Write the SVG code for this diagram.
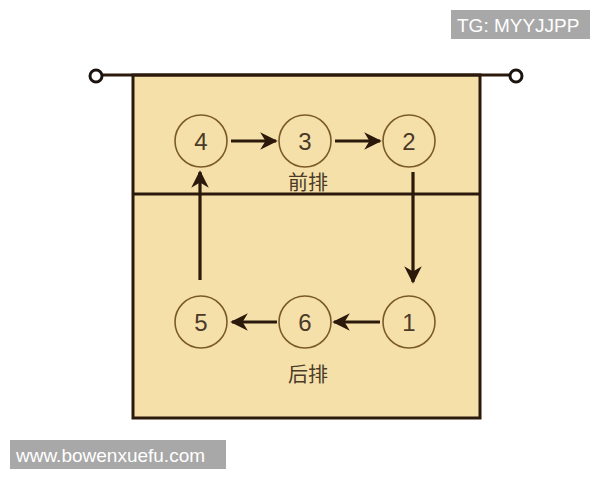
<svg xmlns="http://www.w3.org/2000/svg" width="600" height="480" viewBox="0 0 600 480">
<style>
.court{fill:#f6e0a9;stroke:#2b1a0c;stroke-width:3}
.line{stroke:#2b1a0c;stroke-width:3;fill:none}
.post{fill:#fff;stroke:#1a1410;stroke-width:3}
.pos{fill:none;stroke:#7a5a2a;stroke-width:1.6}
.num{font-family:"Liberation Sans",Arial,sans-serif;font-size:24px;fill:#4a3a28;text-anchor:middle}
.lbl{font-family:"Noto Sans CJK SC",sans-serif;font-size:20px;fill:#4a3a28;text-anchor:middle}
.arr{stroke:#2b1a0c;stroke-width:3.2;fill:none;marker-end:url(#ah)}
.badge{fill:#a8a8a8}
.btxt{font-family:"Liberation Sans",Arial,sans-serif;font-size:19px;fill:#fff}
</style>
<defs>
<marker id="ah" viewBox="0 0 10 10" refX="9" refY="5" markerWidth="5.5" markerHeight="5.5" markerUnits="strokeWidth" orient="auto">
<path d="M0,0 L10,5 L0,10 L3,5 Z" fill="#2b1a0c"/>
</marker>
</defs>
<rect width="600" height="480" fill="#fff"/>
<g id="court">
<rect class="court" x="133" y="75" width="347" height="343"/>
<line class="line" x1="133" y1="194" x2="480" y2="194"/>
<line class="line" x1="102" y1="75" x2="510" y2="75"/>
<circle class="post" cx="96" cy="76" r="6"/>
<circle class="post" cx="516" cy="76" r="6"/>
</g>
<g id="connectors">
<line class="arr" x1="231" y1="141" x2="276" y2="141"/>
<line class="arr" x1="335" y1="141" x2="380" y2="141"/>
<line class="arr" x1="413" y1="172" x2="413" y2="282"/>
<line class="arr" x1="380" y1="322" x2="334" y2="322"/>
<line class="arr" x1="277" y1="322" x2="232" y2="322"/>
<line class="arr" x1="200" y1="280" x2="200" y2="172"/>
</g>
<g id="p4"><circle class="pos" cx="201" cy="141" r="26"/><text class="num" x="201" y="149.5">4</text></g>
<g id="p3"><circle class="pos" cx="305" cy="141" r="26"/><text class="num" x="305" y="149.5">3</text></g>
<g id="p2"><circle class="pos" cx="409" cy="141" r="26"/><text class="num" x="409" y="149.5">2</text></g>
<g id="p5"><circle class="pos" cx="201" cy="322" r="26"/><text class="num" x="201" y="330.5">5</text></g>
<g id="p6"><circle class="pos" cx="305" cy="322" r="26"/><text class="num" x="305" y="330.5">6</text></g>
<g id="p1"><circle class="pos" cx="409" cy="322" r="26"/><text class="num" x="409" y="330.5">1</text></g>
<g id="front"><text class="lbl" x="308" y="190">前排</text></g>
<g id="back"><text class="lbl" x="308" y="382">后排</text></g>
<g id="tg"><rect class="badge" x="451" y="10" width="139" height="29"/><text class="btxt" x="457" y="31.5">TG: MYYJJPP</text></g>
<g id="www"><rect class="badge" x="10" y="440" width="216" height="29"/><text class="btxt" x="16" y="461.5">www.bowenxuefu.com</text></g>
</svg>
